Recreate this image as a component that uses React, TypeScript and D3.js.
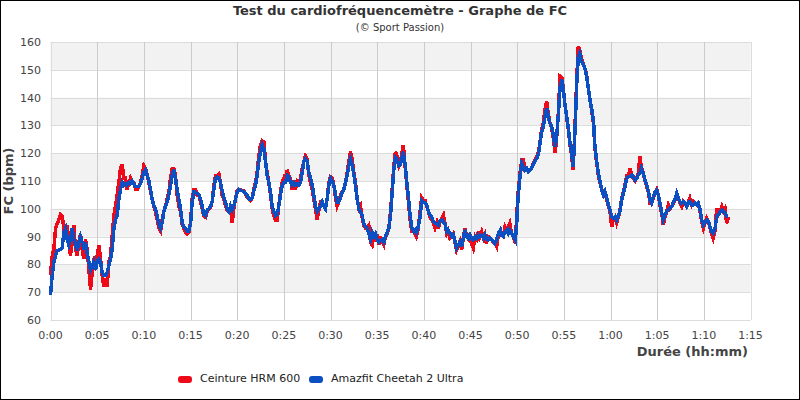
import React from "react";
import * as d3 from "d3";

// elapsed time in minutes
const minutes = [
  0, 0.18, 0.36, 0.54, 0.71, 0.89, 1.07, 1.25, 1.43, 1.61, 1.79, 1.96, 2.14, 2.32, 2.5, 2.68, 2.86, 3.04, 3.21, 3.39,
  3.57, 3.75, 3.93, 4.11, 4.29, 4.46, 4.64, 4.82, 5, 5.18, 5.36, 5.54, 5.71, 5.89, 6.07, 6.25, 6.43, 6.61, 6.79, 6.96,
  7.14, 7.32, 7.5, 7.68, 7.86, 8.04, 8.21, 8.39, 8.57, 8.75, 8.93, 9.11, 9.29, 9.46, 9.64, 9.82, 10, 10.18, 10.36, 10.54,
  10.71, 10.89, 11.07, 11.25, 11.43, 11.61, 11.79, 11.96, 12.14, 12.32, 12.5, 12.68, 12.86, 13.04, 13.21, 13.39, 13.57, 13.75, 13.93, 14.11,
  14.29, 14.46, 14.64, 14.82, 15, 15.18, 15.36, 15.54, 15.71, 15.89, 16.07, 16.25, 16.43, 16.61, 16.79, 16.96, 17.14, 17.32, 17.5, 17.68,
  17.86, 18.04, 18.21, 18.39, 18.57, 18.75, 18.93, 19.11, 19.29, 19.46, 19.64, 19.82, 20, 20.18, 20.36, 20.54, 20.71, 20.89, 21.07, 21.25,
  21.43, 21.61, 21.79, 21.96, 22.14, 22.32, 22.5, 22.68, 22.86, 23.04, 23.21, 23.39, 23.57, 23.75, 23.93, 24.11, 24.29, 24.46, 24.64, 24.82,
  25, 25.18, 25.36, 25.54, 25.71, 25.89, 26.07, 26.25, 26.43, 26.61, 26.79, 26.96, 27.14, 27.32, 27.5, 27.68, 27.86, 28.04, 28.21, 28.39,
  28.57, 28.75, 28.93, 29.11, 29.29, 29.46, 29.64, 29.82, 30, 30.18, 30.36, 30.54, 30.71, 30.89, 31.07, 31.25, 31.43, 31.61, 31.79, 31.96,
  32.14, 32.32, 32.5, 32.68, 32.86, 33.04, 33.21, 33.39, 33.57, 33.75, 33.93, 34.11, 34.29, 34.46, 34.64, 34.82, 35, 35.18, 35.36, 35.54,
  35.71, 35.89, 36.07, 36.25, 36.43, 36.61, 36.79, 36.96, 37.14, 37.32, 37.5, 37.8, 38, 38.16, 38.34, 38.5, 38.7, 38.9, 39.05, 39.2,
  39.4, 39.6, 39.77, 39.95, 40.13, 40.3, 40.5, 40.66, 40.84, 41, 41.2, 41.4, 41.55, 41.7, 41.9, 42.1, 42.3, 42.45, 42.6, 42.8,
  42.98, 43.16, 43.34, 43.5, 43.7, 43.9, 44.05, 44.2, 44.4, 44.6, 44.8, 44.95, 45.1, 45.3, 45.5, 45.7, 45.84, 46, 46.2, 46.4,
  46.55, 46.7, 46.9, 47.1, 47.3, 47.45, 47.6, 47.8, 48, 48.2, 48.3, 48.5, 48.7, 48.9, 49.05, 49.2, 49.4, 49.6, 49.8, 49.95,
  50.1, 50.3, 50.5, 50.66, 50.84, 51, 51.2, 51.4, 51.55, 51.7, 51.9, 52.1, 52.3, 52.45, 52.6, 52.8, 52.98, 53.16, 53.34, 53.5,
  53.7, 53.9, 54.05, 54.2, 54.4, 54.6, 54.8, 54.95, 55.1, 55.3, 55.5, 55.66, 55.84, 56, 56.2, 56.4, 56.55, 56.7, 56.9, 57.1,
  57.3, 57.45, 57.6, 57.8, 58, 58.2, 58.3, 58.5, 58.7, 58.9, 59.06, 59.24, 59.4, 59.6, 59.77, 59.95, 60.13, 60.3, 60.5, 60.66,
  60.84, 61, 61.2, 61.38, 61.56, 61.74, 61.92, 62.1, 62.27, 62.45, 62.63, 62.81, 62.98, 63.16, 63.3, 63.5, 63.7, 63.88, 64.06, 64.24,
  64.4, 64.6, 64.77, 64.95, 65.13, 65.3, 65.5, 65.66, 65.84, 66, 66.2, 66.38, 66.56, 66.74, 66.9, 67.1, 67.27, 67.45, 67.63, 67.8,
  67.98, 68.16, 68.3, 68.5, 68.7, 68.88, 69.06, 69.24, 69.4, 69.6, 69.77, 69.95, 70.13, 70.3, 70.5, 70.66, 70.84, 71, 71.2, 71.38,
  71.56, 71.74, 71.92, 72.1, 72.27, 72.45, 72.63,
];

// chest strap (bpm)
const ceinture = [
  76, 83, 85.5, 93, 94.5, 96, 98, 97.5, 93, 89, 94, 88, 83, 90, 94, 85.5, 83, 88, 91, 85.5,
  82, 89, 85.5, 78.5, 71, 77, 81, 79.5, 83, 87, 82, 76, 72, 75, 72, 81, 83, 90, 97.5, 101,
  105, 109.5, 114.5, 116, 111, 111, 107, 109, 111, 109.5, 109.5, 107, 107, 108, 109.5, 112, 115.5, 114.5, 112, 109.5,
  106.5, 103.5, 101, 99, 96, 93, 92, 96, 99, 101, 103.5, 106, 111, 114.5, 114.5, 112, 105, 101, 99, 94.5,
  93, 91.5, 91, 91.5, 95, 103.5, 107, 107, 105, 105, 102.5, 100, 97.5, 97, 99, 100, 100.5, 102.5, 108.5, 112,
  112, 112.5, 109.5, 105, 103.5, 101, 99.5, 99, 100, 95, 100, 103.5, 106.5, 107, 107, 106.5, 106.5, 105.5, 104, 103.5,
  103, 104, 107, 109.5, 113, 119, 123, 124.5, 124, 117, 113, 109.5, 105, 100, 97.5, 96, 96, 101, 106, 109.5,
  111, 109, 114, 112, 111, 107, 109.5, 107, 110, 109.5, 111, 114.5, 117, 119, 118, 112, 109.5, 107, 103.5, 100,
  96, 99.5, 102.5, 102.5, 101, 100, 103.5, 109.5, 111.5, 111, 108.5, 104, 101, 102.5, 105, 106, 107, 109.5, 113, 117,
  120.5, 118, 113, 109.5, 103.5, 100, 101, 97, 94, 93, 93, 94, 88, 87, 91.5, 88, 91, 87, 90, 88,
  87, 90, 91, 93, 99, 107, 115.5, 120.5, 119, 115.5, 117, 123, 115, 109, 103, 97, 92, 92, 91, 90,
  93, 99, 104, 103, 103, 101, 99, 97, 96, 95, 93, 95, 93, 95, 96.6, 97.8, 94, 91, 92, 89.4,
  90, 91, 88, 85.2, 87, 88.5, 85.2, 89, 93, 90, 89, 91, 87.6, 85.8, 90, 89, 91.8, 90, 91.8, 89.4,
  90.6, 87.6, 90, 89.4, 88.8, 88, 87.6, 86.4, 91, 92.4, 90.6, 90, 93.6, 92.4, 93.6, 94.8, 91.2, 90, 87.6, 97,
  105.6, 112.8, 117.6, 117.6, 114, 114.6, 113.4, 114, 114.6, 116, 117.5, 118.8, 120.5, 124, 128, 131, 135.6, 138.6, 134, 131,
  129, 125, 120, 124, 134, 147.6, 147, 143, 138, 133, 128, 123, 119, 114, 130, 148, 158.4, 157, 154, 152,
  150, 148, 144, 139, 135, 130, 123, 117, 112, 109, 107, 106, 106, 103, 101, 99, 93.6, 96, 97, 95,
  97, 99, 104, 106, 109, 112, 112, 114.6, 112, 111, 110, 111, 113, 118.8, 115, 113, 110, 108, 106, 102,
  102, 104, 106, 107, 105, 101.4, 98, 94.2, 97, 99, 101.4, 100, 101, 102, 103, 105, 104, 102, 100.8, 102.6,
  102, 101, 102, 103.8, 101.4, 102.6, 102, 101.4, 102, 99, 95.5, 93, 95, 96.6, 95.4, 93, 91, 89.4, 92, 100.2,
  98, 99, 100.8, 99, 100, 94.8, 97,
];

// watch (bpm)
const amazfit = [
  69, 76, 81, 83, 85, 85, 85.5, 86, 91.5, 93, 89, 87, 89, 93, 89, 87, 85, 88, 90, 88,
  85.5, 88, 84, 81, 78, 79.5, 81, 78, 81, 82, 81, 77, 76, 76, 77, 79.5, 82, 85.5, 93, 96,
  97.5, 103.5, 107, 109.5, 108.5, 109, 108.5, 109.5, 109, 110, 109, 108, 108, 108, 109, 111, 113, 114, 112, 110,
  107, 103.5, 101, 100, 97.5, 94.5, 93, 95, 99, 101, 102.5, 105, 108.5, 112, 114, 111, 107, 103.5, 100, 95,
  93.5, 93, 92, 92, 94.5, 102.5, 106, 106, 105.5, 105, 103.5, 101, 98, 97.5, 99.5, 100, 101, 102.5, 107, 111,
  111.5, 111, 109.5, 106.5, 104, 102.5, 100, 99, 101, 99.5, 101, 103.5, 106, 107, 106.5, 106.5, 106, 105.5, 105, 103.5,
  103.5, 104, 106.5, 108.5, 112, 117, 120.5, 123, 121.5, 117, 112, 109.5, 106, 101, 99, 97.5, 98, 101, 105, 108.5,
  109.5, 109.5, 112, 111.5, 109.5, 108.5, 109.5, 108.5, 109, 108.5, 109.5, 113, 117, 118, 117, 113, 111, 108.5, 105, 101,
  99, 100, 101, 102.5, 101, 100, 103.5, 108.5, 111, 110, 108.5, 105, 102.5, 102.5, 104, 106, 107, 109.5, 112, 115.5,
  118, 116, 112.5, 108.5, 103.5, 100, 99, 97.5, 94.5, 93.5, 93, 91, 89, 91.5, 90, 91, 89, 88, 88.5, 89,
  88, 90, 91.5, 93, 97.5, 106, 114.5, 118.5, 118, 115.5, 116, 120.5, 116, 110, 104.5, 98.5, 93.5, 92, 92.5, 91.5,
  93.5, 97, 103, 102.5, 102, 101.4, 99, 97.8, 97.2, 95.4, 94.8, 94.8, 94.2, 95.4, 96, 95.4, 94.2, 91.8, 92.4, 91.2,
  90, 90.6, 88.2, 85.8, 87, 88.2, 86.4, 88.8, 92.4, 90, 89.4, 90.6, 89.4, 88.8, 90, 89.4, 90.6, 90, 90.6, 89.4,
  90.6, 89.4, 88.8, 89.4, 88.8, 88.2, 87.6, 88.8, 91.2, 92.4, 90.6, 90, 91.8, 92.4, 91.2, 92.4, 91.2, 90, 88.8, 94.8,
  104.4, 111.6, 116.4, 115.2, 114, 114.6, 113.4, 114, 114.6, 115.8, 117, 118.2, 120, 123.6, 127.2, 129.6, 133.2, 136.2, 133.2, 130.8,
  129.6, 126, 122.4, 124.8, 133.2, 144, 146.4, 142.8, 138, 133.2, 128.4, 123.6, 120, 115.2, 128.4, 146.4, 154.8, 156, 153, 151.8,
  150, 147.6, 144, 139.2, 135.6, 130.8, 123.6, 117.6, 112.8, 109.5, 106.8, 105, 106.2, 103.8, 101.4, 99.6, 97.2, 96.6, 97.2, 96,
  97.2, 99, 103.2, 105.6, 108, 111, 111.6, 111.6, 112.2, 111.6, 110.4, 111, 112.2, 112.8, 114.6, 112.8, 110.4, 108.6, 106.2, 103.2,
  102, 104.4, 106.2, 106.8, 105, 102, 98.4, 96, 97.8, 99, 99.6, 100.2, 100.8, 102.6, 103.2, 105.6, 103.8, 102.6, 102, 102.6,
  102, 100.8, 102, 102.6, 101.4, 101.4, 102, 101.4, 102, 99.6, 96, 94.2, 95.4, 96, 95.4, 93.6, 91.8, 91.2, 93, 97.2,
  97.8, 99, 99.6, 99, 98.4, 97.2, 97.2,
];

const seriesNames = ["Ceinture HRM 600", "Amazfit Cheetah 2 Ultra"];
const seriesColors = ["#ee0a18", "#0c4fc2"];
const xTicks = [0, 5, 10, 15, 20, 25, 30, 35, 40, 45, 50, 55, 60, 65, 70, 75];
const yTicks = [60, 70, 80, 90, 100, 110, 120, 130, 140, 150, 160];

const W = 800;
const H = 400;
const margin = { top: 42, right: 49.5, bottom: 80, left: 50.5 };
const font = "'DejaVu Sans', sans-serif";

const fmtTime = (m: number) => `${Math.floor(m / 60)}:${String(m % 60).padStart(2, "0")}`;

export default function App() {
  const x = d3.scaleLinear().domain([0, 75]).range([margin.left, W - margin.right]);
  const y = d3.scaleLinear().domain([60, 160]).range([H - margin.bottom, margin.top]);

  const rows = minutes.map((m, i) => ({ m, hrm: ceinture[i], watch: amazfit[i] }));
  const lineHrm = d3.line<any>().x((d) => x(d.m)).y((d) => y(d.hrm));
  const lineWatch = d3.line<any>().x((d) => x(d.m)).y((d) => y(d.watch));

  const [x0, x1] = x.range();
  const [y0, y1] = y.range();

  return (
    <svg
      width={W}
      height={H}
      style={{ position: "absolute", left: 0, top: 0, background: "#fff" }}
      fontFamily={font}
    >
      {/* alternating bands */}
      {yTicks.slice(0, -1).filter((v) => v % 20 === 10).map((v) => (
        <rect key={"b" + v} x={x0} y={y(v + 10)} width={x1 - x0} height={y(v) - y(v + 10)} fill="#f2f2f2" />
      ))}
      {yTicks.map((v) => (
        <line key={"h" + v} x1={x0} x2={x1} y1={Math.round(y(v)) + 0.5} y2={Math.round(y(v)) + 0.5} stroke="#dcdcdc" />
      ))}
      {xTicks.map((v) => (
        <line key={"v" + v} x1={Math.round(x(v)) + 0.5} x2={Math.round(x(v)) + 0.5} y1={y1} y2={y0} stroke={v === 0 || v === 75 ? "#dcdcdc" : "#cbcbcb"} />
      ))}

      {/* heart rate traces, watch drawn over the strap */}
      <path d={lineHrm(rows) || ""} fill="none" stroke={seriesColors[0]} strokeWidth={3.5} shapeRendering="crispEdges" />
      <path d={lineWatch(rows) || ""} fill="none" stroke={seriesColors[1]} strokeWidth={3.5} shapeRendering="crispEdges" />

      {yTicks.map((v) => (
        <text key={"yl" + v} x={41} y={y(v) + 4} textAnchor="end" fontSize={11} fill="#444">
          {v}
        </text>
      ))}
      {xTicks.map((v) => (
        <text key={"xl" + v} x={x(v)} y={339} textAnchor="middle" fontSize={11} fill="#444">
          {fmtTime(v)}
        </text>
      ))}

      <text x={400} y={15} textAnchor="middle" fontSize={13} fontWeight="bold" fill="#333">
        Test du cardiofréquencemètre - Graphe de FC
      </text>
      <text x={400} y={31} textAnchor="middle" fontSize={10} fill="#333">
        (© Sport Passion)
      </text>
      <text x={748} y={356} textAnchor="end" fontSize={13} fontWeight="bold" fill="#444">
        Durée (hh:mm)
      </text>
      <text transform={`translate(13,181) rotate(-90)`} textAnchor="middle" fontSize={13} fontWeight="bold" fill="#444">
        FC (bpm)
      </text>

      {/* legend */}
      {seriesNames.map((name, i) => {
        const lx = [178, 309][i];
        return (
          <g key={name} transform={`translate(${lx},376)`}>
            <rect x={0} y={0} width={14} height={7} rx={3} fill={seriesColors[i]} />
            <text x={22} y={6} fontSize={11} fill="#222">
              {name}
            </text>
          </g>
        );
      })}

      <rect x={0.5} y={0.5} width={W - 1} height={H - 1} fill="none" stroke="#000" />
    </svg>
  );
}
